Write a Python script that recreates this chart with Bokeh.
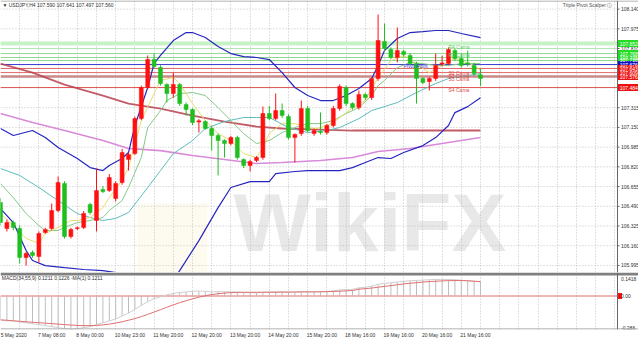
from bokeh.plotting import figure
from bokeh.models import (ColumnDataSource, FixedTicker, Label, Span, Range1d,
                          CustomJSTickFormatter)
from bokeh.layouts import column
from bokeh.embed import file_html
from bokeh.resources import INLINE
from bokeh.core.properties import value

FONT = "Liberation Sans"

# ---------------- data ----------------
opens = [106.522, 106.304, 106.354, 106.304, 106.061, 106.103, 106.070, 106.271, 106.304, 106.455,
         106.681, 106.237, 106.304, 106.312, 106.505, 106.371, 106.631, 106.622, 106.555, 106.689,
         106.881, 106.931, 107.224, 107.484, 107.718, 107.651, 107.509, 107.434, 107.509, 107.341,
         107.300, 107.195, 107.199, 107.141, 107.082, 107.040, 107.015, 107.065, 106.881, 106.831,
         106.873, 106.898, 107.266, 107.224, 107.291, 107.241, 107.065, 107.099, 107.308, 107.099,
         107.116, 107.107, 107.166, 107.308, 107.484, 107.350, 107.316, 107.425, 107.400, 107.559,
         107.869, 107.802, 107.735, 107.785, 107.752, 107.685, 107.559, 107.534, 107.559, 107.680,
         107.685, 107.793, 107.726, 107.690, 107.668, 107.590]
highs = [106.560, 106.379, 106.370, 106.330, 106.110, 106.120, 106.280, 106.310, 106.513, 106.739,
         106.700, 106.310, 106.320, 106.450, 106.520, 106.806, 106.660, 106.760, 106.700, 106.970,
         106.940, 107.240, 107.500, 107.752, 107.768, 107.670, 107.520, 107.609, 107.520, 107.360,
         107.310, 107.220, 107.210, 107.160, 107.100, 107.050, 107.080, 107.080, 106.890, 106.880,
         106.910, 107.325, 107.330, 107.434, 107.350, 107.260, 107.100, 107.375, 107.330, 107.140,
         107.275, 107.180, 107.330, 107.510, 107.500, 107.360, 107.459, 107.440, 107.567, 108.095,
         108.019, 107.820, 107.986, 107.800, 107.770, 107.700, 107.570, 107.570, 107.768, 107.750,
         107.820, 107.810, 107.768, 107.793, 107.690, 107.641]
lows = [106.330, 106.279, 106.290, 106.011, 105.994, 106.060, 106.019, 106.260, 106.290, 106.440,
        106.220, 106.220, 106.290, 106.300, 106.420, 106.279, 106.600, 106.610, 106.530, 106.670,
        106.789, 106.920, 107.210, 107.470, 107.640, 107.500, 107.358, 107.400, 107.330, 107.249,
        107.170, 107.107, 107.130, 106.956, 106.748, 106.898, 107.000, 106.880, 106.810, 106.781,
        106.860, 106.880, 107.210, 107.210, 107.230, 107.050, 106.856, 107.080, 107.110, 107.080,
        107.090, 107.090, 107.150, 107.290, 107.330, 107.300, 107.300, 107.380, 107.380, 107.540,
        107.790, 107.720, 107.693, 107.740, 107.670, 107.350, 107.510, 107.459, 107.540, 107.660,
        107.670, 107.710, 107.650, 107.660, 107.580, 107.497]
closes = [106.354, 106.354, 106.312, 106.061, 106.095, 106.078, 106.262, 106.296, 106.455, 106.689,
          106.237, 106.296, 106.310, 106.430, 106.438, 106.622, 106.614, 106.731, 106.681, 106.940,
          106.923, 107.224, 107.484, 107.718, 107.660, 107.517, 107.434, 107.509, 107.350, 107.300,
          107.191, 107.205, 107.141, 107.082, 107.040, 107.015, 107.065, 106.898, 106.831, 106.864,
          106.898, 107.266, 107.224, 107.291, 107.249, 107.065, 107.091, 107.308, 107.124, 107.124,
          107.107, 107.166, 107.308, 107.492, 107.350, 107.316, 107.425, 107.400, 107.559, 107.877,
          107.810, 107.735, 107.793, 107.760, 107.685, 107.559, 107.526, 107.559, 107.668, 107.690,
          107.802, 107.726, 107.668, 107.680, 107.601, 107.560]

# indicator lines, sampled at bar indices
bb_up_idx = [0, 2, 5, 7, 9, 12, 14, 16, 17, 19, 20, 21, 23, 24, 25, 27, 29, 30, 32, 34,
             36, 38, 40, 42, 44, 46, 48, 50, 52, 54, 56, 58, 59, 60, 62, 64, 66, 68, 70, 72, 75]
bb_up = [107.141, 107.082, 107.124, 107.065, 106.982, 106.890, 106.814, 106.789, 106.831, 106.890,
         106.940, 107.165, 107.484, 107.685, 107.752, 107.877, 107.944, 107.944, 107.902, 107.827,
         107.768, 107.743, 107.735, 107.718, 107.609, 107.484, 107.417, 107.375, 107.375, 107.417,
         107.475, 107.559, 107.668, 107.793, 107.894, 107.944, 107.952, 107.961, 107.961, 107.936, 107.902]
bb_lo_idx = [0, 2, 4, 5, 7, 10, 13, 16, 19, 21, 24, 26, 28, 31, 34, 36, 39, 42, 43, 46,
             48, 51, 53, 55, 57, 59, 61, 63, 66, 68, 70, 71, 73, 75]
bb_lo = [106.471, 106.354, 106.120, 106.036, 105.994, 105.977, 105.961, 105.952, 105.927, 105.800,
         105.700, 105.800, 105.952, 106.203, 106.479, 106.647, 106.697, 106.697, 106.764, 106.781,
         106.789, 106.789, 106.789, 106.814, 106.856, 106.898, 106.890, 106.940, 106.998, 107.065,
         107.166, 107.274, 107.324, 107.399]
ma_fast_idx = [0, 2, 4, 6, 7, 9, 11, 12, 14, 16, 17, 19, 20, 22, 24, 25, 27, 28, 30, 32,
               34, 36, 38, 40, 41, 42, 44, 46, 47, 49, 50, 52, 54, 55, 57, 58, 59, 61, 63, 64,
               66, 67, 69, 71, 72, 74, 75]
ma_fast = [106.429, 106.330, 106.221, 106.179, 106.262, 106.312, 106.371, 106.371, 106.396, 106.480,
           106.563, 106.706, 106.814, 107.207, 107.433, 107.542, 107.568, 107.517, 107.350, 107.207,
           107.098, 107.040, 106.931, 106.898, 106.981, 107.098, 107.182, 107.182, 107.165, 107.140,
           107.148, 107.190, 107.274, 107.316, 107.375, 107.475, 107.567, 107.709, 107.751, 107.726,
           107.642, 107.609, 107.668, 107.726, 107.709, 107.668, 107.626]
ma_mid_idx = [0, 2, 4, 6, 7, 9, 10, 12, 14, 16, 17, 19, 20, 22, 23, 25, 26, 28, 30, 32,
              34, 36, 38, 40, 42, 44, 46, 48, 50, 52, 54, 56, 58, 59, 60, 62, 64, 66, 68, 70, 72, 75]
ma_mid = [106.680, 106.563, 106.429, 106.329, 106.287, 106.287, 106.312, 106.354, 106.371, 106.396,
          106.455, 106.538, 106.647, 106.898, 107.149, 107.291, 107.375, 107.433, 107.442, 107.417,
          107.316, 107.207, 107.098, 107.015, 107.040, 107.107, 107.149, 107.182, 107.182, 107.207,
          107.266, 107.316, 107.417, 107.500, 107.542, 107.651, 107.693, 107.684, 107.668, 107.668,
          107.684, 107.684]
ma_slow_idx = [0, 3, 6, 9, 12, 14, 16, 18, 20, 23, 25, 27, 30, 32, 35, 38, 40, 42, 45, 48,
               51, 53, 56, 58, 62, 65, 68, 70, 72, 75]
ma_slow = [106.806, 106.748, 106.647, 106.538, 106.429, 106.396, 106.371, 106.388, 106.438, 106.647,
           106.789, 106.931, 107.040, 107.141, 107.199, 107.233, 107.233, 107.233, 107.149, 107.107,
           107.124, 107.149, 107.224, 107.291, 107.358, 107.442, 107.517, 107.559, 107.576, 107.601]
ma100_idx = [0, 5, 10, 16, 20, 25, 30, 35, 40, 44, 50, 55, 60, 65, 70, 75]
ma100 = [107.684, 107.609, 107.508, 107.416, 107.350, 107.308, 107.249, 107.199, 107.157, 107.141,
         107.132, 107.124, 107.124, 107.124, 107.124, 107.124]
ma200_idx = [0, 5, 10, 16, 20, 25, 30, 35, 40, 44, 50, 55, 59, 64, 69, 75]
ma200 = [107.266, 107.191, 107.124, 107.040, 106.973, 106.956, 106.915, 106.881, 106.848, 106.856,
         106.873, 106.898, 106.948, 106.973, 107.015, 107.065]

# pivot levels
pivot_levels = [107.852, 107.810, 107.768, 107.735, 107.710, 107.676, 107.643, 107.609, 107.576, 107.484]
pivot_colors = ["#c6f2c6", "#b4e6b4", "#8fd88f", "#8fd88f", "#8fd88f", "#3a3ad0",
                "#e36a6a", "#e36a6a", "#c98a8a", "#e35a5a"]
pivot_widths = [4, 1, 1, 1, 1, 1, 1, 1, 2.5, 1]
pivot_box_colors = ["#22dd22", None, "#22dd22", "#22dd22", "#22dd22", "#1010c0",
                    "#ee1111", "#ee1111", "#ee1111", "#ee1111"]
pivot_names = ["R4 Cama", "R3 Cama", "Pivot Point", "S1 Cama", "S2 Cama", "S3 Cama", "S4 Cama"]
pivot_name_bar = [70.0, 70.0, 63.0, 70.0, 70.0, 70.0, 70.0]
pivot_name_price = [107.827, 107.752, 107.660, 107.609, 107.584, 107.551, 107.459]
pivot_name_colors = ["#66cc66", "#66cc66", "#3a3ad0", "#e05050", "#e05050", "#e05050", "#e05050"]

price_ticks = [108.140, 107.975, 107.810, 107.645, 107.480, 107.315, 107.150, 106.985,
               106.820, 106.655, 106.490, 106.325, 106.160, 105.995]

time_idx = [0, 6, 12, 18, 24, 30, 36, 42, 48, 54, 60, 66, 72]
time_labels = ["5 May 2020", "7 May 08:00", "8 May 00:00", "10 May 23:00", "11 May 20:00",
               "12 May 20:00", "13 May 20:00", "14 May 20:00", "15 May 20:00", "18 May 16:00",
               "19 May 16:00", "20 May 16:00", "21 May 16:00"]

macd_main = [-0.204, -0.212, -0.212, -0.221, -0.229, -0.237, -0.245, -0.253, -0.262, -0.270,
             -0.278, -0.284, -0.278, -0.270, -0.262, -0.245, -0.229, -0.212, -0.196, -0.171,
             -0.146, -0.114, -0.081, -0.048, -0.023, -0.007, 0.010, 0.022, 0.030, 0.035,
             0.039, 0.043, 0.040, 0.036, 0.037, 0.036, 0.035, 0.033, 0.030, 0.028,
             0.027, 0.032, 0.034, 0.036, 0.036, 0.034, 0.033, 0.037, 0.036, 0.036,
             0.037, 0.039, 0.044, 0.052, 0.055, 0.057, 0.070, 0.075, 0.085, 0.100,
             0.108, 0.113, 0.119, 0.125, 0.130, 0.133, 0.136, 0.139, 0.141, 0.1418,
             0.141, 0.139, 0.135, 0.131, 0.126, 0.1211]
macd_signal = [-0.204, -0.207, -0.212, -0.216, -0.220, -0.224, -0.228, -0.232, -0.236, -0.240,
               -0.244, -0.248, -0.251, -0.253, -0.253, -0.251, -0.247, -0.240, -0.231, -0.220,
               -0.207, -0.193, -0.176, -0.157, -0.137, -0.117, -0.096, -0.076, -0.057, -0.040,
               -0.024, -0.010, 0.002, 0.012, 0.020, 0.025, 0.029, 0.031, 0.032, 0.032,
               0.032, 0.032, 0.032, 0.032, 0.033, 0.033, 0.034, 0.035, 0.035, 0.035,
               0.036, 0.037, 0.039, 0.041, 0.044, 0.047, 0.058, 0.063, 0.068, 0.075,
               0.082, 0.089, 0.096, 0.103, 0.109, 0.114, 0.119, 0.123, 0.126, 0.129,
               0.131, 0.132, 0.132, 0.130, 0.126, 0.1226]
macd_ticks = [0.1418, 0.0, -0.286]
macd_tick_labels = ["0.1418", "0.00", "-0.286"]

header = "\u25bc USDJPY,H4  107.590 107.641 107.497 107.560"
indicator_name = "Triple Pivot Scalper \u24d8"
macd_header = "MACD(34,55,9) 0.1211 0.1226   -MA(1) 0.1211"

# ---------------- layout constants ----------------
BAR_PX = 6.4
W = 638
AX = 617 / BAR_PX          # price-scale line position (bars)
X_END = W / BAR_PX
PX_PRICE = 1 / 119.5       # price per pixel in main panel
GRID = "#c2c2c2"
TXT = "#303030"
FS = "5px"
LAB_X = AX + 2.2 / BAR_PX

xr = Range1d(0, X_END)

# ---------------- main price panel ----------------
p = figure(frame_width=W, frame_height=272, x_range=xr, y_range=Range1d(105.936, 108.212),
           output_backend="svg", toolbar_location=None, x_axis_location=None,
           y_axis_location=None, min_border_left=0, min_border_right=0,
           min_border_top=0, min_border_bottom=0, background_fill_color="white",
           border_fill_color="white", outline_line_color=None)

p.ygrid.visible = False
p.xgrid.ticker = FixedTicker(ticks=list(range(0, 97, 3)))
p.xgrid.grid_line_color = GRID
p.xgrid.grid_line_dash = "1 2"

n_t = len(price_ticks)
p.segment(x0=[0] * n_t, y0=price_ticks, x1=[AX] * n_t, y1=price_ticks, line_color=GRID,
          line_dash="1 2", line_width=1, level="underlay")

# watermark
p.quad(left=[21.4], right=[32.3], bottom=[105.90], top=[106.513], fill_color="#f4e7b4",
       fill_alpha=0.22, line_color=None, level="underlay")
p.add_layout(Label(x=36.4, y=105.97, text="WikiFX", text_font=FONT, text_font_size="82px",
                   text_font_style="bold", text_color="#b8b8b8", text_alpha=0.33,
                   level="underlay"))

# pivot lines (stop at the price scale)
for lvl, c, w in zip(pivot_levels, pivot_colors, pivot_widths):
    p.segment(x0=[0], y0=[lvl], x1=[AX], y1=[lvl], line_color=c, line_width=w)

# moving averages and bands
p.line(ma200_idx, ma200, line_color="#d98ad9", line_width=1.6)
p.line(ma100_idx, ma100, line_color="#b8404f", line_width=1.8, line_alpha=0.85)
p.line(ma_slow_idx, ma_slow, line_color="#5cbcbc", line_width=1)
p.line(ma_mid_idx, ma_mid, line_color="#86c986", line_width=1)
p.line(ma_fast_idx, ma_fast, line_color="#e6dc6a", line_width=1)
p.line(bb_up_idx, bb_up, line_color="#2525c0", line_width=1.2)
p.line(bb_lo_idx, bb_lo, line_color="#2525c0", line_width=1.2)

# candles (red = rising, green = falling)
xs = list(range(len(opens)))
cols = ["#ff1010" if c >= o else "#1fbf1f" for o, c in zip(opens, closes)]
src = ColumnDataSource(dict(x=xs, o=opens, h=highs, l=lows, c=closes,
                            top=[max(o, c) for o, c in zip(opens, closes)],
                            bot=[min(o, c) for o, c in zip(opens, closes)], col=cols))
p.segment(x0="x", y0="h", x1="x", y1="l", line_color="col", line_width=1, source=src)
p.vbar(x="x", width=0.62, top="top", bottom="bot", fill_color="col", line_color="col",
       line_width=0.5, source=src)

# pivot names
p.text(x=pivot_name_bar, y=pivot_name_price, text=pivot_names, text_color=pivot_name_colors,
       text_font=value(FONT), text_font_size=FS, text_baseline="middle", text_align="left")

# header texts
p.add_layout(Label(x=0.3, y=108.175, text=header, text_font=FONT, text_font_size=FS,
                   text_color=TXT, text_baseline="middle"))
p.add_layout(Label(x=95.6, y=108.172, text=indicator_name, text_font=FONT, text_font_size=FS,
                   text_color="#505050", text_baseline="middle", text_align="right"))

# price scale: line, ticks, labels
p.add_layout(Span(location=AX, dimension="height", line_color="#666666", line_width=1))
p.add_layout(Span(location=108.212 - 0.5 * PX_PRICE, dimension="width", line_color="#9a9a9a",
                  line_width=1))
p.segment(x0=[AX] * n_t, y0=price_ticks, x1=[AX + 2 / BAR_PX] * n_t, y1=price_ticks,
          line_color="#666666", line_width=1)
p.text(x=[LAB_X + 0.2] * n_t, y=price_ticks, text=[f"{t:.3f}" for t in price_ticks],
       text_font=value(FONT), text_font_size=FS, text_color=TXT, text_baseline="middle",
       text_align="left")

# coloured price boxes for the pivot levels
box_lv = [l for l, b in zip(pivot_levels, pivot_box_colors) if b]
box_c = [b for b in pivot_box_colors if b]
p.rect(x=[AX + 11 / BAR_PX] * len(box_lv), y=box_lv, width=21 / BAR_PX, height=7 * PX_PRICE,
       fill_color=box_c, line_color=None)
p.text(x=[LAB_X] * len(box_lv), y=box_lv, text=[f"{l:.3f}" for l in box_lv],
       text_font=value(FONT), text_font_size=FS, text_color="white", text_baseline="middle",
       text_align="left")

# ---------------- MACD panel ----------------
M_TOP = 0.2007
M_PX = 1 / 117.1
m = figure(frame_width=W, frame_height=57, x_range=xr, y_range=Range1d(-0.286, M_TOP),
           output_backend="svg", toolbar_location=None, x_axis_location="below",
           y_axis_location=None, min_border_left=0, min_border_right=0,
           min_border_top=0, min_border_bottom=0, background_fill_color="white",
           border_fill_color="white", outline_line_color=None)

m.ygrid.visible = False
m.xgrid.ticker = FixedTicker(ticks=list(range(0, 97, 3)))
m.xgrid.grid_line_color = GRID
m.xgrid.grid_line_dash = "1 2"

m.segment(x0=[0], y0=[0], x1=[AX], y1=[0], line_color="#e06a6a", line_width=1)
m.segment(x0=xs, y0=[0] * len(xs), x1=xs, y1=macd_main, line_color="#bdbdbd", line_width=1)
m.line(xs, macd_main, line_color="#cfcfcf", line_width=1)
m.line(xs, macd_signal, line_color="#e07070", line_width=1)

m.add_layout(Span(location=M_TOP - 1.5 * M_PX, dimension="width", line_color="#808080",
                  line_width=3))
m.add_layout(Span(location=-0.286 + 0.5 * M_PX, dimension="width", line_color="#9a9a9a",
                  line_width=1))
m.add_layout(Span(location=AX, dimension="height", line_color="#666666", line_width=1))

m.add_layout(Label(x=0.2, y=M_TOP - 5 * M_PX, text=macd_header, text_font=FONT,
                   text_font_size=FS, text_color=TXT, text_baseline="middle"))

m.rect(x=[AX + 2.5 / BAR_PX], y=[0], width=4 / BAR_PX, height=6 * M_PX, fill_color="#ee1111",
       line_color=None)
m.text(x=[LAB_X + 0.2] * 2, y=macd_ticks[:2], text=macd_tick_labels[:2],
       text_font=value(FONT), text_font_size=FS, text_color=TXT, text_baseline="middle",
       text_align="left")
m.text(x=[LAB_X + 0.2], y=[macd_ticks[2]], text=[macd_tick_labels[2]],
       text_font=value(FONT), text_font_size=FS, text_color=TXT, text_baseline="bottom",
       text_align="left")

# time labels: left-aligned at their bar, so tick sits at label centre
CW = {" ": 1.39, ":": 1.39, "M": 4.17, "a": 2.78, "y": 2.5}
def text_px(s):
    return sum(CW.get(ch, 2.78) for ch in s)

centers = [round(max(i - 0.16, 0.02) + text_px(t) / 2 / BAR_PX, 3) for i, t in zip(time_idx, time_labels)]
mx = m.xaxis[0]
mx.ticker = FixedTicker(ticks=centers)
mx.formatter = CustomJSTickFormatter(args=dict(pos=centers, lab=time_labels), code="""
for (let i = 0; i < pos.length; i++) { if (Math.abs(tick - pos[i]) < 1e-4) return lab[i]; }
return '';
""")
mx.major_label_text_font = FONT
mx.major_label_text_font_size = FS
mx.major_label_text_color = TXT
mx.major_label_standoff = 2
mx.major_tick_out = 0
mx.major_tick_in = 0
mx.minor_tick_out = 0
mx.minor_tick_in = 0
mx.major_tick_line_color = None
mx.minor_tick_line_color = None
mx.axis_line_color = None

layout = column(p, m, spacing=0)
open("out.html", "w").write(file_html(layout, INLINE))
